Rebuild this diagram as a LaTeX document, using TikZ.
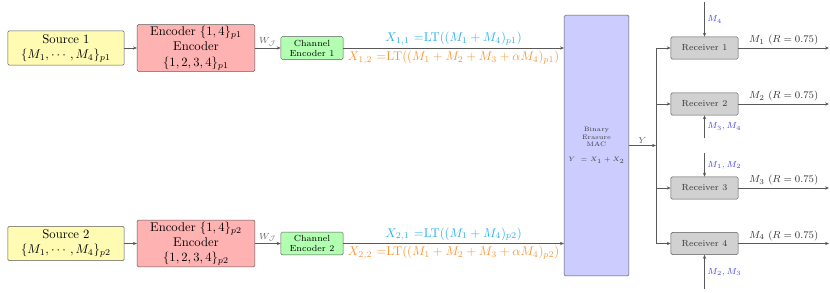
\documentclass[tikz,border=0pt]{standalone}
\usepackage{amsmath}
\usepackage{amssymb}
\usepackage{tikz}
\usetikzlibrary{calc,positioning,arrows.meta}
\usepackage{xcolor}
\definecolor{xonec}{RGB}{45,175,235}
\definecolor{xtwoc}{RGB}{250,150,50}
\definecolor{sidec}{RGB}{70,70,225}
\tikzset{
  box/.style={rectangle,rounded corners=1pt,draw=black!65,line width=0.4pt,inner sep=1pt,align=center},
  src/.style={box,fill=yellow!30,minimum width=92pt,minimum height=27pt},
  enc/.style={box,fill=red!30,minimum width=93pt,minimum height=37pt},
  chenc/.style={box,fill=green!30,minimum width=49pt,minimum height=18pt,font=\scriptsize},
  mac/.style={box,fill=blue!20,minimum width=51pt,minimum height=206pt,font=\tiny,text=black!75},
  rcv/.style={box,fill=black!18,minimum width=53pt,minimum height=17.5pt,font=\scriptsize,text=black!80},
  wire/.style={line width=0.5pt,black!65},
  link/.style={wire,-{Stealth[length=1.1mm,width=0.9mm]}},
  lbl/.style={font=\scriptsize,text=black!60,inner sep=1.5pt},
  side/.style={font=\scriptsize,text=sidec,inner sep=2pt},
}
\begin{document}
\begin{tikzpicture}[x=0.79pt,y=-0.79pt]
  \useasboundingbox (0,0) rectangle (830,292);
  % two transmitters
  \foreach \i/\y in {1/48,2/243.5}{
    \node[src](s\i) at (66,\y){Source \i\\$\{M_1,\cdots,M_4\}_{p\i}$};
    \node[enc](e\i) at (196,\y){Encoder $\{1,4\}_{p\i}$\\Encoder\\$\{1,2,3,4\}_{p\i}$};
    \node[chenc](c\i) at (312,\y){Channel\\Encoder \i};
    \draw[link] (s\i)--(e\i);
    \draw[link] (e\i)--node[lbl,above]{$W_{\mathcal{J}}$}(c\i);
  }
  \node[mac](mac) at (596.5,145.5){Binary\\Erasure\\MAC\\[6pt]$Y\ = X_1+X_2$};
  % channel inputs
  \draw[link] (c1)--node[above,text=xonec,inner sep=2pt]{$X_{1,1}$ =LT$((M_1+M_4)_{p1})$}
    node[below,text=xtwoc,inner sep=2pt]{$X_{1,2}$ =LT$((M_1+M_2+M_3+\alpha M_4)_{p1})$}(c1 -| mac.west);
  \draw[link] (c2)--node[above,text=xonec,inner sep=2pt]{$X_{2,1}$ =LT$((M_1+M_4)_{p2})$}
    node[below,text=xtwoc,inner sep=2pt]{$X_{2,2}$ =LT$((M_1+M_2+M_3+\alpha M_4)_{p2})$}(c2 -| mac.west);
  % receivers
  \coordinate (bus) at (656,145.5);
  \draw[link] (mac)--node[lbl,above]{$Y$}(bus);
  \foreach \k/\y/\t/\s in {1/48/2/{M_4},2/104/138/{M_3,M_4},3/188/153/{M_1,M_2},4/243.5/289/{M_2,M_3}}{
    \node[rcv](r\k) at (704.5,\y){Receiver \k};
    \coordinate (o\k) at (829,\y);
    \coordinate (t\k) at (704.5,\t);
    \draw[link] (r\k -| bus)--(r\k);
    \draw[link] (r\k)--node[above,font=\footnotesize,text=black!80,inner sep=2pt]{$M_\k$ $(R=0.75)$}(o\k);
    \draw[link] (t\k)--node[side,right]{$\s$}(r\k);
  }
  \draw[wire] (r1 -| bus)--(r4 -| bus);
\end{tikzpicture}
\end{document}
